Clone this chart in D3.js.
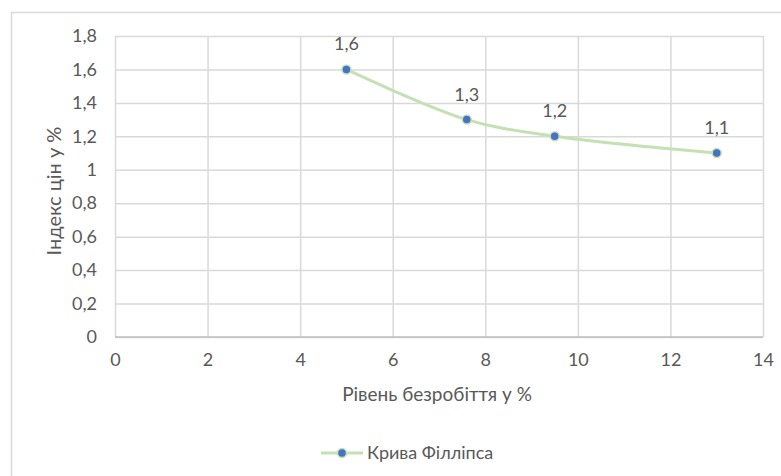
<!DOCTYPE html>
<html><head><meta charset="utf-8">
<script src="https://cdn.jsdelivr.net/npm/d3@7"></script>
<style>
html,body{margin:0;padding:0;background:#fff;}
svg text{font-family:"Lato",sans-serif;fill:#595959;}
</style></head>
<body>
<svg id="c" width="781" height="476"></svg>
<script>
const unemployment = [5, 7.6, 9.5, 13];
const priceIndex = [1.6, 1.3, 1.2, 1.1];
const xTicks = [0, 2, 4, 6, 8, 10, 12, 14];
const yTicks = [0, 0.2, 0.4, 0.6, 0.8, 1, 1.2, 1.4, 1.6, 1.8];
const seriesName = "Крива Філліпса";
const xTitle = "Рівень безробіття у %";
const yTitle = "Індекс цін у %";

const fmt = v => String(v).replace(".", ",");
const svg = d3.select("#c");
const m = {l:115, r:763, t:36, b:337};
const x = d3.scaleLinear().domain([0,14]).range([m.l, m.r]);
const y = d3.scaleLinear().domain([0,1.8]).range([m.b, m.t]);

// outer chart border
svg.append("rect").attr("x",11.5).attr("y",12.5).attr("width",780).attr("height",480)
  .attr("fill","none").attr("stroke","#d9d9d9").attr("stroke-width",1.5);

// gridlines
const gx = svg.append("g").attr("transform",`translate(0,${m.b})`)
  .call(d3.axisBottom(x).tickValues(xTicks).tickSize(-(m.b-m.t)).tickFormat(fmt).tickPadding(16));
gx.select(".domain").remove();
gx.selectAll("line").attr("stroke","#d9d9d9").attr("stroke-width",1.5);
gx.selectAll("text").attr("font-size",18);

const gy = svg.append("g").attr("transform",`translate(${m.l},0)`)
  .call(d3.axisLeft(y).tickValues(yTicks).tickSize(-(m.r-m.l)).tickFormat(fmt).tickPadding(18));
gy.select(".domain").remove();
gy.selectAll("line").attr("stroke","#d9d9d9").attr("stroke-width",1.5);
gy.selectAll("text").attr("font-size",18);
// bottom axis line
svg.append("line").attr("x1",m.l).attr("x2",m.r).attr("y1",y(0)).attr("y2",y(0))
  .attr("stroke","#bfbfbf").attr("stroke-width",1.5);

// titles
svg.append("text").attr("x",(m.l+m.r)/2 - 2).attr("y",401).attr("text-anchor","middle")
  .attr("font-size",19).text(xTitle);
svg.append("text").attr("transform",`translate(61,191) rotate(-90)`)
  .attr("text-anchor","middle").attr("font-size",20).attr("fill","#404040").text(yTitle);

const data = unemployment.map((u,i)=>({u, p: priceIndex[i]}));
const line = d3.line().x(d=>x(d.u)).y(d=>y(d.p)).curve(d3.curveCatmullRom.alpha(0.5));
svg.append("path").datum(data).attr("d",line).attr("fill","none")
  .attr("stroke","#c5e0b4").attr("stroke-width",3);
svg.selectAll("circle.pt").data(data).join("circle").attr("class","pt")
  .attr("cx",d=>x(d.u)).attr("cy",d=>y(d.p)).attr("r",4.5)
  .attr("fill","#4472c4").attr("stroke","#c5e0b4").attr("stroke-width",1.5);
svg.selectAll("text.lbl").data(data).join("text").attr("class","lbl")
  .attr("x",d=>x(d.u)).attr("y",d=>y(d.p)-19).attr("text-anchor","middle")
  .attr("font-size",18).text(d=>fmt(d.p));

// legend
const lg = svg.append("g");
lg.append("line").attr("x1",321).attr("x2",363).attr("y1",453).attr("y2",453)
  .attr("stroke","#c5e0b4").attr("stroke-width",3);
lg.append("circle").attr("cx",342).attr("cy",453).attr("r",4.5)
  .attr("fill","#4472c4").attr("stroke","#c5e0b4").attr("stroke-width",1.5);
lg.append("text").attr("x",367).attr("y",459).attr("font-size",18).text(seriesName);
</script>
</body></html>
